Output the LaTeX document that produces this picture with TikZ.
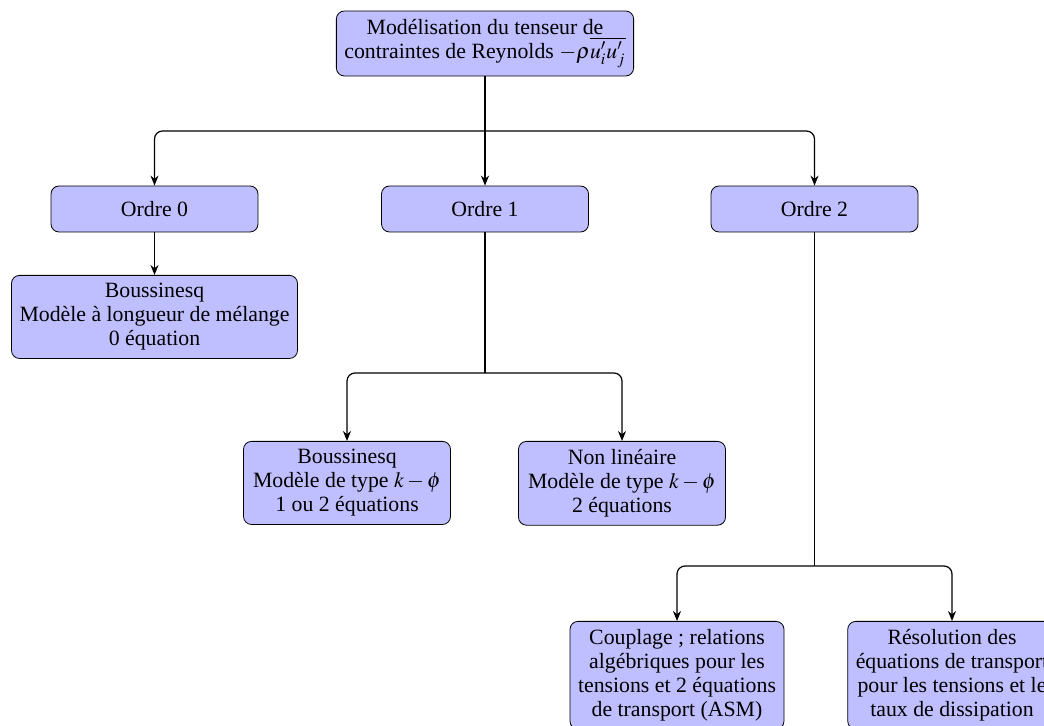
\documentclass[tikz,border=0pt]{standalone}
\usepackage{mathptmx}
\usepackage{fontspec}
\setmainfont{Liberation Serif}
\usetikzlibrary{arrows.meta}
\begin{document}
\begin{tikzpicture}[x=1pt, y=1pt,
  boite/.style={shape=rectangle, rounded corners=4pt, draw=black, fill=blue!25, align=center, minimum width=103.5pt, minimum height=23pt, inner sep=4pt, font=\fontsize{10.9}{12}\selectfont},
  fleche/.style={-{Stealth[length=5pt,width=4pt]}, semithick, draw=black}]
\useasboundingbox (0,0) rectangle (522,-363);
\node[boite, minimum width=148.5pt] (modele) at (242.5,-21.75) {Modélisation du tenseur de\\contraintes de Reynolds $-\rho\overline{u'_iu'_j}$};
\node[boite] (ordre0) at (77.25,-104.5) {Ordre 0};
\node[boite] (ordre1) at (242.5,-104.5) {Ordre 1};
\node[boite] (ordre2) at (407.25,-104.5) {Ordre 2};
\node[boite, anchor=north] (bous0) at (77.25,-137.5) {Boussinesq\\Modèle à longueur de mélange\\0 équation};
\node[boite, anchor=north] (bous1) at (173.5,-220.5) {Boussinesq\\Modèle de type $k-\phi$\\1 ou 2 équations};
\node[boite, anchor=north] (nonlin) at (311,-220.5) {Non linéaire\\Modèle de type $k-\phi$\\2 équations};
\node[boite, anchor=north] (asm) at (338.5,-310.5) {Couplage ; relations\\algébriques pour les\\tensions et 2 équations\\de transport (ASM)};
\node[boite, anchor=north] (rsm) at (476,-310.5) {Résolution des\\équations de transport\\pour les tensions et le\\taux de dissipation};
% points de branchement
\coordinate (f0) at (242.5,-65.5);
\coordinate (f1) at (242.5,-186.5);
\coordinate (f2) at (407.25,-283);
\path [fleche] (modele) edge (ordre1);
\draw [fleche, rounded corners=4pt] (f0) -| (ordre0.north);
\draw [fleche, rounded corners=4pt] (f0) -| (ordre2.north);
\path [fleche] (ordre0) edge (bous0);
\draw [semithick] (ordre1.south) -- (f1);
\draw [fleche, rounded corners=4pt] (f1) -| (bous1.north);
\draw [fleche, rounded corners=4pt] (f1) -| (nonlin.north);
\draw [semithick] (ordre2.south) -- (f2);
\draw [fleche, rounded corners=4pt] (f2) -| (asm.north);
\draw [fleche, rounded corners=4pt] (f2) -| (rsm.north);
\end{tikzpicture}
\end{document}
